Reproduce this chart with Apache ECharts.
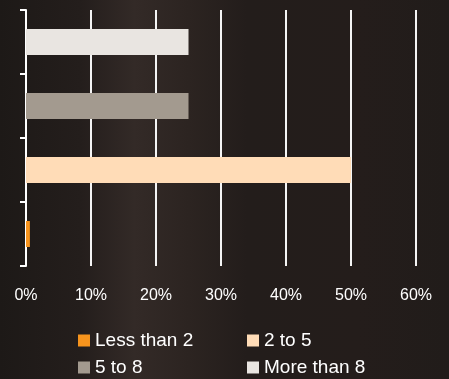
<!DOCTYPE html>
<html>
<head>
<meta charset="utf-8">
<script src="https://cdn.jsdelivr.net/npm/echarts@6/dist/echarts.min.js"></script>
<style>
  html, body { margin: 0; padding: 0; background: #211b19; }
  #chart { width: 449px; height: 379px; }
</style>
</head>
<body>
<div id="chart"></div>
<script>
// Share of responses per group (percent)
const categories = ['Less than 2', '2 to 5', '5 to 8', 'More than 8'];
const values = [0.6, 50, 25, 25];
const colors = ['#f7941d', '#ffdcb7', '#a39a8f', '#e9e5e1'];
const tickLabels = [0, 10, 20, 30, 40, 50, 60];

const chart = echarts.init(document.getElementById('chart'));

// One series per group, each placed on its own category row
const series = categories.map((name, i) => ({
  name: name,
  type: 'bar',
  stack: 'all',
  barWidth: 26,
  itemStyle: { color: colors[i] },
  data: categories.map((c, j) => (j === i ? values[i] : null))
}));

const legendText = { color: '#ffffff', fontSize: 19, fontFamily: 'Liberation Sans, Arial, sans-serif' };

// Two stacked legend columns under the plot
function legendColumn(names, left) {
  return {
    data: names,
    orient: 'vertical',
    left: left, top: 331,
    padding: 0,
    height: 48,
    itemWidth: 12, itemHeight: 12, itemGap: 8,
    icon: 'rect',
    textStyle: legendText
  };
}

chart.setOption({
  backgroundColor: {
    type: 'linear', x: 0, y: 0, x2: 1, y2: 0,
    colorStops: [
      { offset: 0, color: '#1d1917' },
      { offset: 0.18, color: '#241e1c' },
      { offset: 0.3, color: '#332a27' },
      { offset: 0.42, color: '#2c2421' },
      { offset: 0.55, color: '#231d1b' },
      { offset: 0.8, color: '#241d1b' },
      { offset: 1, color: '#211c1a' }
    ]
  },
  animation: false,
  grid: { left: 26, right: 33, top: 10, bottom: 113, containLabel: false },
  xAxis: {
    type: 'value',
    min: tickLabels[0],
    max: tickLabels[tickLabels.length - 1],
    interval: 10,
    axisLine: { show: false },
    axisTick: { show: false },
    splitLine: { show: true, lineStyle: { color: '#f4f4f4', width: 2 } },
    axisLabel: {
      color: '#ffffff',
      fontFamily: 'Liberation Sans, Arial, sans-serif',
      fontSize: 16,
      margin: 22,
      formatter: v => v + '%'
    }
  },
  yAxis: {
    type: 'category',
    data: categories,
    boundaryGap: true,
    axisLine: { show: true, lineStyle: { color: '#ffffff', width: 2 } },
    axisTick: { show: true, length: 6, lineStyle: { color: '#ffffff', width: 2 } },
    axisLabel: { show: false }
  },
  legend: [
    legendColumn([categories[0], categories[2]], 78),
    legendColumn([categories[1], categories[3]], 247)
  ],
  series: series
});
</script>
</body>
</html>
